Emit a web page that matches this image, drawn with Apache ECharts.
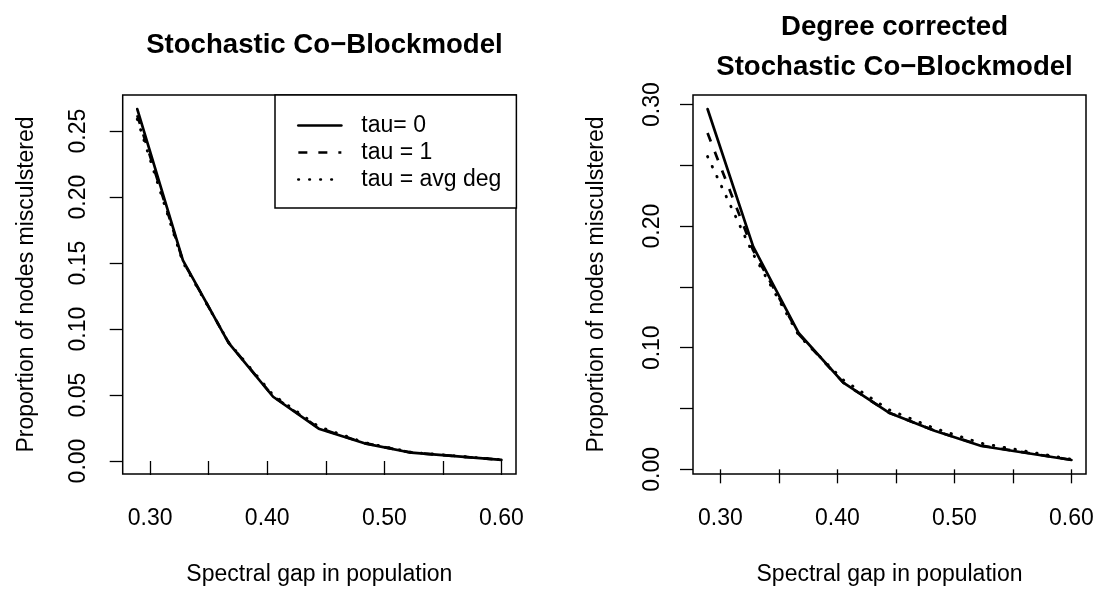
<!DOCTYPE html>
<html>
<head>
<meta charset="utf-8">
<script src="https://cdn.jsdelivr.net/npm/echarts@6/dist/echarts.min.js"></script>
<style>html,body{margin:0;padding:0;background:#fff;}#c{width:1099px;height:591px;}</style>
</head>
<body>
<div id="c"></div>
<script>
// ---- data ----
const gap = [0.289, 0.328, 0.367, 0.405, 0.444, 0.483, 0.523, 0.600];

const scbTau0   = [0.2667, 0.1520, 0.0895, 0.0487, 0.0245, 0.0134, 0.0063, 0.0008];
const scbTau1   = [0.2620, 0.1515, 0.0897, 0.0490, 0.0250, 0.0136, 0.0064, 0.0009];
const scbTauAvg = [0.2590, 0.1505, 0.0900, 0.0500, 0.0260, 0.0140, 0.0066, 0.0010];

const dcTau0    = [0.2963, 0.1832, 0.1119, 0.0713, 0.0466, 0.0318, 0.0192, 0.0077];
const dcTau1    = [0.2765, 0.1800, 0.1110, 0.0713, 0.0466, 0.0318, 0.0195, 0.0078];
const dcTauAvg  = [0.2573, 0.1770, 0.1100, 0.0735, 0.0490, 0.0337, 0.0214, 0.0082];

const xTicks = [0.30, 0.35, 0.40, 0.45, 0.50, 0.55, 0.60];
const xLabels = [0.30, 0.40, 0.50, 0.60];
const yTicksL = [0.00, 0.05, 0.10, 0.15, 0.20, 0.25];
const yLabelsL = [0.00, 0.05, 0.10, 0.15, 0.20, 0.25];
const yTicksR = [0.00, 0.05, 0.10, 0.15, 0.20, 0.25, 0.30];
const yLabelsR = [0.00, 0.10, 0.20, 0.30];

const seriesNames = ['tau= 0', 'tau = 1', 'tau = avg deg'];
const titleL = 'Stochastic Co\u2212Blockmodel';
const titleR = 'Degree corrected\nStochastic Co\u2212Blockmodel';
const xName = 'Spectral gap in population';
const yName = 'Proportion of nodes misculstered';

// ---- helpers ----
const FONT = 'Liberation Sans, Arial, Helvetica, sans-serif';
const pairs = ys => gap.map((x, i) => [x, ys[i]]);
// R-style 4% axis extension
function ext(vals) {
  const mn = Math.min(...vals), mx = Math.max(...vals), d = (mx - mn) * 0.04;
  return { min: mn - d, max: mx + d };
}
const xr = ext(gap);
const yrL = ext([].concat(scbTau0, scbTau1, scbTauAvg));
const yrR = ext([].concat(dcTau0, dcTau1, dcTauAvg));

const styles = [
  { type: 'solid', width: 2.7, cap: 'round' },
  { type: [9, 11], width: 2.7, cap: 'butt' },
  { type: [0.5, 10.5], width: 2.9, cap: 'round' }
];

function xAxis(gi) {
  return {
    type: 'value', gridIndex: gi, min: xr.min, max: xr.max,
    axisLine: { show: false },
    splitLine: { show: false },
    axisTick: { show: true, length: 14, customValues: xTicks, lineStyle: { color: '#000', width: 1.3 } },
    axisLabel: { customValues: xLabels, margin: 33, color: '#000', fontSize: 23, fontFamily: FONT,
      formatter: v => v.toFixed(2) },
    name: xName, nameLocation: 'middle', nameGap: 89,
    nameTextStyle: { color: '#000', fontSize: 23, fontFamily: FONT }
  };
}
function yAxis(gi, r, ticks, labels, margin) {
  return {
    type: 'value', gridIndex: gi, min: r.min, max: r.max,
    axisLine: { show: false },
    splitLine: { show: false },
    axisTick: { show: true, length: 13, customValues: ticks, lineStyle: { color: '#000', width: 1.3 } },
    axisLabel: { customValues: labels, margin: margin, rotate: 90, color: '#000', fontSize: 23, fontFamily: FONT,
      formatter: v => v.toFixed(2) },
    name: yName, nameLocation: 'middle', nameGap: 85,
    nameTextStyle: { color: '#000', fontSize: 23, fontFamily: FONT }
  };
}
function lines(gi, arrs) {
  return arrs.map((ys, i) => ({
    type: 'line', name: seriesNames[i], xAxisIndex: gi, yAxisIndex: gi,
    data: pairs(ys), symbol: 'none', smooth: false, silent: true, z: 3 - i,
    itemStyle: { color: '#000' },
    lineStyle: { color: '#000', width: styles[i].width, type: styles[i].type, cap: styles[i].cap }
  }));
}

const chart = echarts.init(document.getElementById('c'), null, { renderer: 'canvas' });
chart.setOption({
  animation: false,
  backgroundColor: '#fff',
  title: [
    { text: titleL, left: 319.4, top: 40, textAlign: 'center', textVerticalAlign: 'middle',
      textStyle: { fontSize: 27.6, fontWeight: 'bold', color: '#000', fontFamily: FONT } },
    { text: titleR, left: 889.5, top: 42.5, textAlign: 'center', textVerticalAlign: 'middle',
      textStyle: { fontSize: 27.6, fontWeight: 'bold', color: '#000', fontFamily: FONT, lineHeight: 40 } }
  ],
  grid: [
    { left: 122.7, top: 95, width: 393.3, height: 379, show: true, borderColor: '#000', borderWidth: 1.5, backgroundColor: 'transparent' },
    { left: 693, top: 95, width: 393, height: 379, show: true, borderColor: '#000', borderWidth: 1.5, backgroundColor: 'transparent' }
  ],
  legend: {
    data: seriesNames, orient: 'vertical', left: 275, top: 95,
    itemWidth: 43, itemHeight: 23, itemGap: 4,
    padding: [19, 15, 17, 22],
    borderColor: '#000', borderWidth: 1.5, backgroundColor: '#fff',
    selectedMode: false,
    itemStyle: { opacity: 0 },
    lineStyle: { width: 2.7 },
    textStyle: { color: '#000', fontSize: 23, fontFamily: FONT, padding: [0, 0, 0, 15] }
  },
  xAxis: [xAxis(0), xAxis(1)],
  yAxis: [yAxis(0, yrL, yTicksL, yLabelsL, 33), yAxis(1, yrR, yTicksR, yLabelsR, 29)],
  series: [].concat(lines(0, [scbTau0, scbTau1, scbTauAvg]), lines(1, [dcTau0, dcTau1, dcTauAvg]))
});
</script>
</body>
</html>
